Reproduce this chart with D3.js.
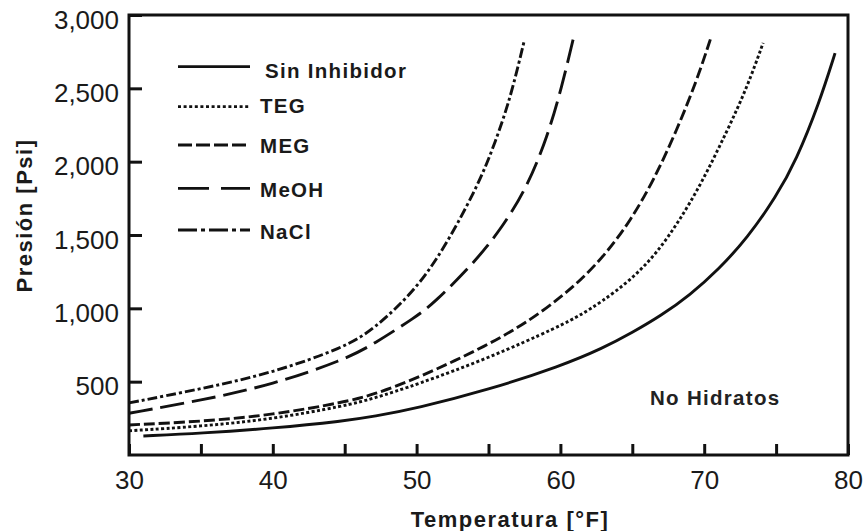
<!DOCTYPE html>
<html>
<head>
<meta charset="utf-8">
<script src="https://cdn.jsdelivr.net/npm/d3@7"></script>
<style>
  html, body { margin: 0; padding: 0; background: #fff; }
  svg { display: block; font-family: "Liberation Sans", Arial, sans-serif; }
</style>
</head>
<body>
<svg id="chart" width="866" height="531"></svg>
<script>
// curvas de formación de hidratos (°F, psi)
const seriesNames = ['Sin Inhibidor', 'TEG', 'MEG', 'MeOH', 'NaCl'];

const sinInhibidor = [[31,130],[35,148],[40,182],[45,232],[47,262],[50,318],[55,445],[60,605],
  [63,730],[65,835],[67,950],[69,1090],[71,1265],[73,1480],[75,1760],[76.4,2010],[78,2400],[79.1,2740]];
const teg = [[30,165],[35,195],[40,245],[45,335],[47,385],[50,480],[55,660],[60,880],[61.4,955],
  [62.8,1040],[64.9,1193],[66.7,1375],[68.3,1602],[69.8,1850],[71.6,2210],[73,2511],[74.1,2810]];
const meg = [[30,205],[35,228],[40,273],[45,360],[47,412],[50,520],[55,750],[58,925],[60,1075],
  [61.4,1190],[63.2,1375],[64.9,1602],[66.5,1875],[68.1,2216],[69.5,2557],[70.5,2855]];
const meoh = [[30,285],[35,372],[40,480],[45,650],[47,755],[50,945],[51.2,1035],[54,1310],
  [56,1557],[57.7,1830],[59.1,2170],[60.1,2511],[60.9,2840]];
const nacl = [[30,355],[35,450],[40,560],[45,735],[47,855],[50,1130],[52.1,1440],[54,1790],
  [55,2010],[56,2280],[56.7,2505],[57.5,2830]];

const xTicks = [30, 35, 40, 45, 50, 55, 60, 65, 70, 75, 80];
const yTicks = [500, 1000, 1500, 2000, 2500, 3000];

const seriesData = [sinInhibidor, teg, meg, meoh, nacl];

// estilos de línea (curva / leyenda)
const dashes = {
  'Sin Inhibidor': { curve: null, legend: null },
  'TEG':  { curve: '3,2.4', legend: '3,2.6' },
  'MEG':  { curve: '11,4', legend: '14,4' },
  'MeOH': { curve: '24,8', legend: '31,12' },
  'NaCl': { curve: '10,3,3,3', legend: '19,4,4,4' }
};
const legendLineY = [66.7, 106.7, 145, 188.3, 230];
const legendTextY = [78.3, 113.3, 153.3, 196.7, 239];

const svg = d3.select('#chart');
const ink = '#111';

const x = d3.scaleLinear().domain([30, 80]).range([129, 848]);
const y = d3.scaleLinear().domain([0, 3000]).range([455, 15]);

// ejes con marcas hacia adentro
const xAxis = svg.append('g')
  .attr('transform', `translate(0,${y(0)})`)
  .call(d3.axisBottom(x).tickValues(xTicks).tickSizeInner(-11).tickSizeOuter(0)
    .tickFormat(d => d % 10 === 0 ? d : ''));
xAxis.select('.domain').remove();
xAxis.selectAll('line').attr('stroke', ink).attr('stroke-width', 3);
xAxis.selectAll('text')
  .attr('y', 34).attr('dy', null)
  .attr('font-size', 26).attr('fill', '#1a1a1a')
  .attr('font-family', '"Liberation Sans", Arial, sans-serif');

const yAxis = svg.append('g')
  .attr('transform', `translate(${x(30)},0)`)
  .call(d3.axisLeft(y).tickValues(yTicks).tickSizeInner(-13).tickSizeOuter(0)
    .tickPadding(10).tickFormat(d3.format(',')));
yAxis.select('.domain').remove();
yAxis.selectAll('line').attr('stroke', ink).attr('stroke-width', 3);
yAxis.selectAll('text')
  .attr('dy', null).attr('y', 13)
  .attr('font-size', 26).attr('fill', '#1a1a1a')
  .attr('font-family', '"Liberation Sans", Arial, sans-serif');

// marco
svg.append('rect')
  .attr('x', x(30)).attr('y', y(3000))
  .attr('width', x(80) - x(30)).attr('height', y(0) - y(3000))
  .attr('fill', 'none').attr('stroke', ink).attr('stroke-width', 3);

// curvas
const line = d3.line()
  .x(d => x(d[0]))
  .y(d => y(d[1]))
  .curve(d3.curveBasis);

svg.append('g')
  .selectAll('path')
  .data(seriesData)
  .join('path')
    .attr('d', line)
    .attr('fill', 'none')
    .attr('stroke', ink)
    .attr('stroke-width', 2.9)
    .attr('stroke-dasharray', (d, i) => dashes[seriesNames[i]].curve);

// leyenda
const legend = svg.append('g').attr('class', 'legend');
legend.selectAll('line')
  .data(seriesNames)
  .join('line')
    .attr('x1', 178).attr('x2', 250)
    .attr('y1', (d, i) => legendLineY[i]).attr('y2', (d, i) => legendLineY[i])
    .attr('stroke', ink).attr('stroke-width', 2.8)
    .attr('stroke-dasharray', d => dashes[d].legend);
legend.selectAll('text')
  .data(seriesNames)
  .join('text')
    .attr('x', (d, i) => i === 0 ? 265 : 260)
    .attr('y', (d, i) => legendTextY[i])
    .attr('font-size', 20.5).attr('font-weight', 'bold')
    .attr('letter-spacing', 1.3).attr('fill', '#1a1a1a')
    .text(d => d);

svg.append('text')
  .attr('x', 650).attr('y', 405)
  .attr('font-size', 20.5).attr('font-weight', 'bold')
  .attr('letter-spacing', 1.3).attr('fill', '#222')
  .text('No Hidratos');

// títulos de ejes
svg.append('text')
  .attr('x', 510).attr('y', 527)
  .attr('text-anchor', 'middle')
  .attr('font-size', 22).attr('font-weight', 'bold')
  .attr('letter-spacing', 1.5).attr('fill', '#1a1a1a')
  .text('Temperatura [°F]');

svg.append('text')
  .attr('transform', 'translate(32,215.5) rotate(-90)')
  .attr('text-anchor', 'middle')
  .attr('font-size', 22).attr('font-weight', 'bold')
  .attr('letter-spacing', 1.5).attr('fill', '#1a1a1a')
  .text('Presión [Psi]');
</script>
</body>
</html>
